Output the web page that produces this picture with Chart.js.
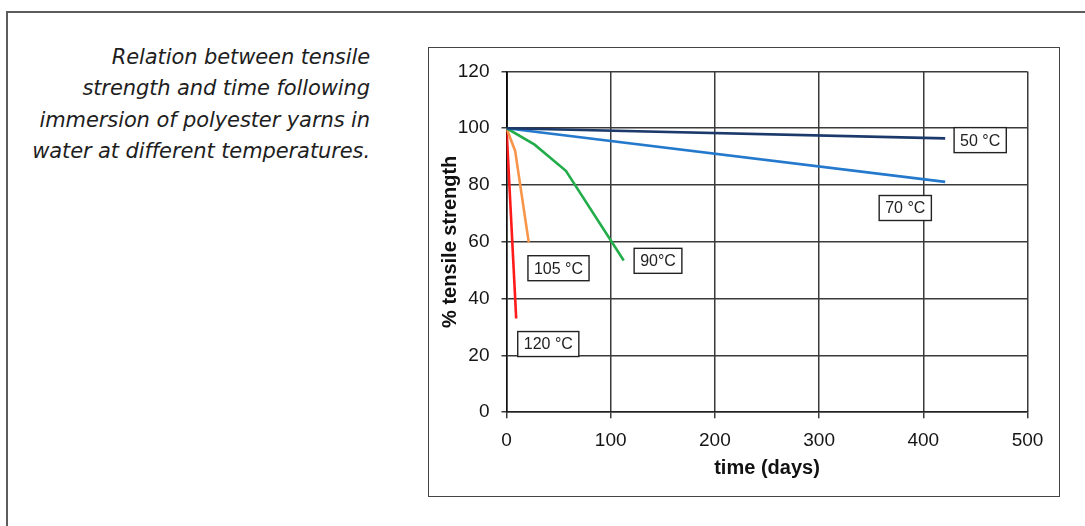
<!DOCTYPE html>
<html>
<head>
<meta charset="utf-8">
<script src="https://cdn.jsdelivr.net/npm/chart.js@4/dist/chart.umd.min.js"></script>
<style>
  html, body { margin: 0; padding: 0; background: #fff; }
  body { width: 1085px; height: 526px; position: relative; overflow: hidden; }
  #frame {
    position: absolute; left: 6px; top: 11px; width: 1100px; height: 540px;
    border-left: 2px solid #5c5c5c; border-top: 2px solid #5c5c5c;
  }
  #caption {
    position: absolute; left: 0; top: 42px; width: 370px;
    text-align: right; color: #1e1e1e;
    font-family: "DejaVu Sans", sans-serif; font-style: italic;
    font-size: 21px; line-height: 31.4px; letter-spacing: -0.1px;
  }
  #box {
    position: absolute; left: 428px; top: 47px; width: 630px; height: 448px;
    border: 1.5px solid #444;
  }
  #box canvas { display: block; }
</style>
</head>
<body>
<div id="frame"></div>
<div id="caption">Relation between tensile<br>strength and time following<br>immersion of polyester yarns in<br>water at different temperatures.</div>
<div id="box"><canvas id="chart" width="630" height="448"></canvas></div>
<script>
// Tensile strength (%) against immersion time (days) for each water temperature
const series = ['50 °C', '70 °C', '90°C', '105 °C', '120 °C'];
const days50 = [0, 421];
const strength50 = [100, 96.4];
const days70 = [0, 421];
const strength70 = [100, 81.1];
const days90 = [0, 27, 57, 112.5];
const strength90 = [100, 94.2, 85, 53.4];
const days105 = [0, 8.3, 21.4];
const strength105 = [100, 92.0, 59.7];
const days120 = [0, 9.3];
const strength120 = [100, 33.0];
// short black stub on the y axis above the common starting point
const stubDays = [0, 0];
const stubStrength = [100, 120];

// label anchors (days, % strength) for the boxed temperature tags
const tagDays = [454.6, 382.7, 145.4, 49.9, 40.1];
const tagStrength = [95.8, 71.9, 53.3, 50.7, 24.0];

const xTicks = [0, 100, 200, 300, 400, 500];
const yTicks = [0, 20, 40, 60, 80, 100, 120];

const colors = ['#1b3a6b', '#2479cc', '#23ad4a', '#f7964a', '#ff1a1a'];
const seriesDays = [days50, days70, days90, days105, days120];
const seriesStrength = [strength50, strength70, strength90, strength105, strength120];

const toPoints = (xs, ys) => xs.map((x, i) => ({ x: x, y: ys[i] }));

const datasets = series.map((name, i) => ({
  label: name,
  data: toPoints(seriesDays[i], seriesStrength[i]),
  borderColor: colors[i],
  borderWidth: 2.6,
  showLine: true,
  pointRadius: 0,
  tension: 0,
  fill: false
}));
datasets.push({
  label: 'stub',
  data: toPoints(stubDays, stubStrength),
  borderColor: '#000',
  borderWidth: 2.2,
  showLine: true,
  pointRadius: 0
});

// Boxed tags drawn on top of the lines
const tagPlugin = {
  id: 'tempTags',
  afterDatasetsDraw(chart) {
    const { ctx, scales: { x, y } } = chart;
    ctx.save();
    ctx.font = '16px "Liberation Sans", Arial, sans-serif';
    ctx.textAlign = 'center';
    ctx.textBaseline = 'middle';
    series.forEach((name, i) => {
      const cx = x.getPixelForValue(tagDays[i]);
      const cy = y.getPixelForValue(tagStrength[i]);
      const w = ctx.measureText(name).width + 12;
      const h = 25;
      ctx.fillStyle = '#fff';
      ctx.fillRect(cx - w / 2, cy - h / 2, w, h);
      ctx.strokeStyle = '#222';
      ctx.lineWidth = 1.4;
      ctx.strokeRect(cx - w / 2, cy - h / 2, w, h);
      ctx.fillStyle = '#222';
      ctx.fillText(name, cx, cy + 1);
    });
    ctx.restore();
  }
};

const gridColor = '#3a3a3a';
const tickFont = { family: '"Liberation Sans", Arial, sans-serif', size: 19 };
const titleFont = { family: '"Liberation Sans", Arial, sans-serif', size: 20, weight: 'bold' };

new Chart(document.getElementById('chart'), {
  type: 'scatter',
  data: { datasets: datasets },
  options: {
    responsive: false,
    devicePixelRatio: 1,
    animation: false,
    layout: { padding: { top: 20.5, right: 31.5, left: 0, bottom: 0 } },
    plugins: { legend: { display: false }, tooltip: { enabled: false } },
    scales: {
      x: {
        type: 'linear', min: 0, max: 500,
        afterBuildTicks: s => { s.ticks = xTicks.map(v => ({ value: v })); },
        afterFit: s => { s.height = 83.8; },
        grid: { color: gridColor, lineWidth: 1.5, tickLength: 6, drawTicks: true },
        border: { color: '#222', width: 1.5 },
        ticks: { color: '#151515', font: tickFont, padding: 11, maxRotation: 0 },
        title: { display: true, text: 'time (days)', color: '#111', font: titleFont, padding: { top: 0, bottom: 16 } }
      },
      y: {
        type: 'linear', min: 0, max: 120,
        afterBuildTicks: s => { s.ticks = yTicks.map(v => ({ value: v })); },
        afterFit: s => { s.width = 77.5; },
        grid: { color: gridColor, lineWidth: 1.5, tickLength: 5, drawTicks: true },
        border: { color: '#111', width: 1.5 },
        ticks: { color: '#151515', font: tickFont, padding: 12 },
        title: { display: true, text: '% tensile strength', color: '#111', font: titleFont, padding: { top: 9, bottom: 0 } }
      }
    }
  },
  plugins: [tagPlugin]
});
</script>
</body>
</html>
